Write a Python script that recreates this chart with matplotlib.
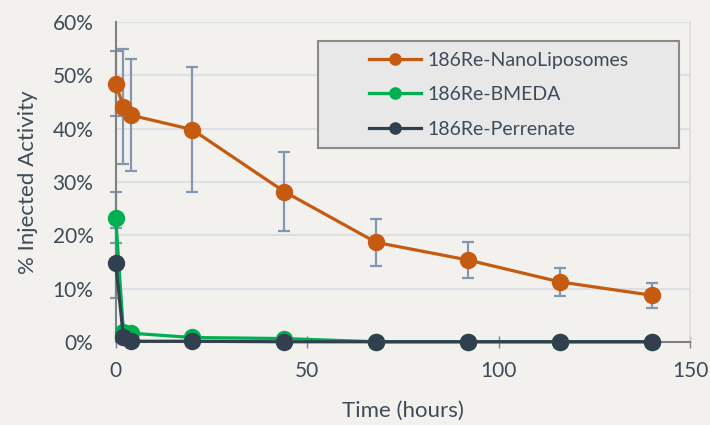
import matplotlib
matplotlib.use('Agg')
import matplotlib.pyplot as plt
from matplotlib.patches import Rectangle
from matplotlib.ticker import FuncFormatter

# Dados (tempo em horas, % de atividade injetada)
tempo = [0, 2, 4, 20, 44, 68, 92, 116, 140]
nano = [48.4, 44.1, 42.5, 39.8, 28.2, 18.7, 15.4, 11.3, 8.8]
nano_err = [6.1, 10.7, 10.5, 11.7, 7.4, 4.4, 3.4, 2.6, 2.3]
bmeda = [23.3, 2.0, 1.7, 0.9, 0.7, 0.1, 0.1, 0.1, 0.1]
bmeda_err = [4.8, 0, 0, 0, 0, 0, 0, 0, 0]
perrenate = [14.8, 1.0, 0.2, 0.2, 0.1, 0.1, 0.1, 0.1, 0.1]
perrenate_err = [6.5, 0, 0, 0, 0, 0, 0, 0, 0]
series_labels = ['186Re-NanoLiposomes', '186Re-BMEDA', '186Re-Perrenate']

cor_fundo = '#F2F1EE'
cor_texto = '#3E4B59'
cor_erro = '#8497B0'

plt.rcParams['font.family'] = ['Lato', 'DejaVu Sans']

fig = plt.figure(figsize=(7.1, 4.25), dpi=100)
fig.patch.set_facecolor(cor_fundo)
ax = fig.add_axes([0.163, 0.1946, 0.809, 0.7544])
ax.set_facecolor(cor_fundo)

series = [
    (nano, nano_err, '#C55A11'),
    (bmeda, bmeda_err, '#00B050'),
    (perrenate, perrenate_err, '#323F4F'),
]
for (vals, errs, cor), lab in zip(series, series_labels):
    ax.errorbar(tempo, vals, yerr=errs, fmt='none', ecolor=cor_erro,
                elinewidth=1.6, capsize=4.5, capthick=1.6, zorder=2, clip_on=False)
    ax.plot(tempo, vals, color=cor, lw=2.3, marker='o', markersize=11.5,
            label=lab, zorder=3, clip_on=False)

ax.set_xlim(0, 150)
ax.set_ylim(0, 60)
ax.set_xticks([0, 50, 100, 150])
ax.set_yticks(range(0, 61, 10))
ax.yaxis.set_major_formatter(FuncFormatter(lambda v, p: f'{int(v)}%'))

ax.grid(axis='y', color='#DCDFE4', lw=1.5, zorder=0)
ax.set_axisbelow(True)
ax.spines['top'].set_visible(False)
ax.spines['right'].set_color('#DCDCDC')
ax.spines['right'].set_linewidth(1.2)
for s in ['left', 'bottom']:
    ax.spines[s].set_color('#808080')
    ax.spines[s].set_linewidth(1.5)

ax.tick_params(axis='x', direction='inout', length=9, width=1, color='#808080',
               labelsize=15, labelcolor=cor_texto, pad=9)
ax.tick_params(axis='y', length=0, labelsize=15, labelcolor=cor_texto, pad=16)

ax.set_xlabel('Time (hours)', fontsize=16, color=cor_texto, va='center')
ax.set_ylabel('% Injected Activity', fontsize=16, color=cor_texto, va='center')
ax.xaxis.set_label_coords(0.5, -0.215)
ax.yaxis.set_label_coords(-0.153, 0.5)

# caixa da legenda desenhada à parte, legenda centrada dentro dela
caixa = Rectangle((0.352, 0.605), 0.629, 0.3353, transform=ax.transAxes,
                  facecolor='#E7E8E7', edgecolor='#8A8A8A', lw=1.5, zorder=4)
ax.add_patch(caixa)
leg = ax.legend(loc='center', bbox_to_anchor=(0.352 + 0.629 / 2, 0.605 + 0.3353 / 2),
                fontsize=14, labelcolor=cor_texto, frameon=False,
                markerscale=0.7, handlelength=2.7, handletextpad=0.3,
                labelspacing=0.9, borderaxespad=0)
leg.set_zorder(5)

fig.savefig('out.png', dpi=100, facecolor=fig.get_facecolor())
